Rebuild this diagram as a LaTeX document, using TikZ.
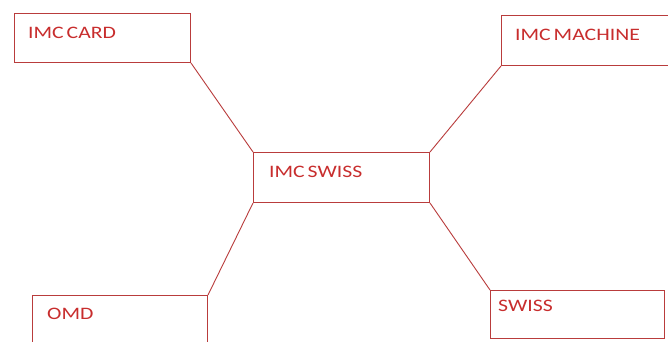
\documentclass[tikz,border=0pt]{standalone}
\usepackage{fontspec}
\setmainfont{Carlito}[FakeStretch=1.24,WordSpace=0.6]
\definecolor{boxred}{RGB}{185,60,60}
\definecolor{txtred}{RGB}{200,45,45}
\begin{document}
\begin{tikzpicture}[x=1pt,y=-1pt,
  box/.style={draw=boxred, line width=1pt, rectangle, inner sep=0pt, anchor=north west},
  lbl/.style={text=txtred, anchor=west, inner sep=0pt, font=\fontsize{17.5}{20}\selectfont},
  link/.style={draw=boxred, line width=0.9pt}]
\path[fill=white] (0,0) rectangle (668,342);
\useasboundingbox (0,0) rectangle (668,342);
\clip (0,0) rectangle (668,342);
\node[box, minimum width=176pt, minimum height=49pt] (card) at (14,13) {};
\node[box, minimum width=175pt, minimum height=50pt] (machine) at (501,15) {};
\node[box, minimum width=176pt, minimum height=50pt] (center) at (253,152) {};
\node[box, minimum width=175pt, minimum height=60pt] (omd) at (32,295) {};
\node[box, minimum width=174pt, minimum height=48pt] (swiss) at (490,290) {};
\node[lbl] (tcard) at (28,33) {IMC CARD};
\node[lbl] (tmachine) at (515,35) {IMC MACHINE};
\node[lbl] (tcenter) at (269,172) {IMC SWISS};
\node[lbl] (tomd) at (47,314) {OMD};
\node[lbl] (tswiss) at (498,306) {SWISS};
\draw[link] (card.south east) -- (center.north west);
\draw[link] (machine.south west) -- (center.north east);
\draw[link] (center.south west) -- (omd.north east);
\draw[link] (center.south east) -- (swiss.north west);
\end{tikzpicture}
\end{document}
